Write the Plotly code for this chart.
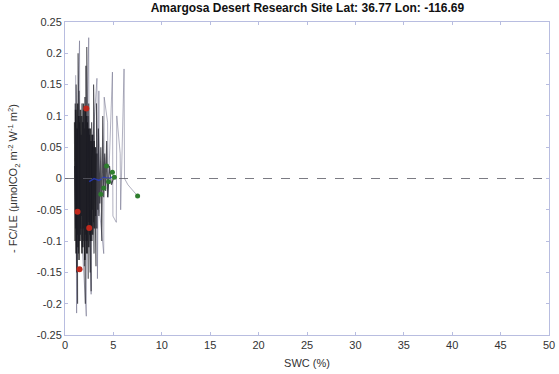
import plotly.graph_objects as go

# Dense black trace (main data cloud)
black_x = [1.0,1.1,1.05,1.2,1.15,1.3,1.25,1.4,1.35,1.5,1.45,1.6,1.55,1.7,1.65,1.8,1.75,1.9,1.85,2.0,
           1.95,2.1,2.05,2.2,2.15,2.3,2.25,2.4,2.35,2.5,2.45,2.6,2.55,2.7,2.65,2.8,2.75,2.9,2.85,3.0,
           2.95,3.1,3.05,3.2,3.15,3.3,3.25,3.4,3.35,3.5,3.45,3.6,3.7,3.8,3.9,4.0,4.1,4.2,4.3,4.4,
           4.6,4.8,5.0]
black_y = [0.02,-0.08,0.12,-0.15,0.15,-0.2,0.08,-0.12,0.2,-0.1,0.14,-0.09,0.1,-0.06,0.07,-0.11,0.12,-0.08,0.09,-0.14,
           0.11,-0.2,0.13,-0.1,0.18,-0.12,0.21,-0.16,0.1,-0.07,0.12,-0.15,0.08,-0.18,0.06,-0.1,0.09,-0.05,0.07,-0.12,
           0.15,-0.09,0.06,-0.14,0.05,-0.08,0.12,-0.05,0.04,-0.06,0.08,-0.04,0.05,-0.1,0.1,-0.03,0.04,-0.02,0.06,-0.03,
           0.02,-0.01,0.0]

dense_x = [1.00,1.05,1.10,1.15,1.20,1.25,1.30,1.35,1.40,1.45,1.50,1.55,1.60,1.65,1.70,1.75,1.80,1.85,1.90,1.95,
           2.00,2.05,2.10,2.15,2.20,2.25,2.30,2.35,2.40,2.45,2.50,2.55,2.60,2.65,2.70,2.75,2.80,2.85,2.90,2.95,
           3.00,3.05,3.10,3.15,3.20]
dense_y = [0.09,-0.1,0.11,-0.12,0.08,-0.09,0.12,-0.11,0.1,-0.13,0.09,-0.1,0.11,-0.08,0.1,-0.12,0.09,-0.11,0.12,-0.1,
           0.08,-0.13,0.11,-0.09,0.1,-0.12,0.09,-0.1,0.08,-0.11,0.07,-0.09,0.08,-0.1,0.06,-0.08,0.07,-0.09,0.05,-0.07,
           0.06,-0.08,0.05,-0.06,0.04]

# Thin grey spikes
gray_x = [1.1,1.15,1.2,1.25,1.5,1.55,2.2,2.25,2.45,2.5,2.7,2.75,3.3,3.35,3.5,3.55,4.0,4.05,4.4,4.45,
          4.9,4.95,5.3,5.35,5.7,5.75,6.1,6.15,6.5,7.5]
gray_y = [0.165,-0.05,-0.215,0.05,0.22,-0.05,-0.22,0.05,0.225,-0.04,-0.185,0.03,0.16,-0.16,0.14,-0.05,-0.12,0.13,0.09,-0.03,
          0.17,-0.06,-0.07,0.1,0.04,-0.05,0.175,0.0,-0.01,-0.028]

blue_x = [2.5,3.0,3.5,4.0,4.5,5.0]
blue_y = [-0.005,0.0,-0.003,0.002,0.0,0.003]

red_x = [2.2,1.3,2.5,1.5]
red_y = [0.112,-0.053,-0.079,-0.145]

green_x = [4.3,4.9,5.1,4.0,3.7,7.5,4.5]
green_y = [0.02,0.01,0.002,-0.015,-0.025,-0.028,-0.005]

x_ticks = [0,5,10,15,20,25,30,35,40,45,50]
y_ticks = [-0.25,-0.2,-0.15,-0.1,-0.05,0,0.05,0.1,0.15,0.2,0.25]
y_ticklabels = ["-0.25","-0.2","-0.15","-0.1","-0.05","0","0.05","0.1","0.15","0.2","0.25"]

title = "Amargosa Desert Research Site Lat: 36.77 Lon: -116.69"

fig = go.Figure()
fig.add_trace(go.Scatter(x=gray_x, y=gray_y, mode="lines",
                         line=dict(color="rgba(100,100,130,0.5)", width=1)))
fig.add_trace(go.Scatter(x=dense_x, y=dense_y, mode="lines",
                         line=dict(color="rgba(0,0,0,0.75)", width=1.6)))
fig.add_trace(go.Scatter(x=black_x, y=black_y, mode="lines",
                         line=dict(color="rgba(20,20,30,0.75)", width=1.1)))
fig.add_trace(go.Scatter(x=blue_x, y=blue_y, mode="lines",
                         line=dict(color="rgba(40,60,200,0.8)", width=1.5)))
fig.add_trace(go.Scatter(x=red_x, y=red_y, mode="markers",
                         marker=dict(color="#c0281c", size=6)))
fig.add_trace(go.Scatter(x=green_x, y=green_y, mode="markers",
                         marker=dict(color="#2e7d2e", size=5)))

fig.add_hline(y=0, line=dict(color="rgba(90,90,100,0.8)", width=1, dash="dash"))

axis_common = dict(showgrid=False, zeroline=False, showline=True, mirror="ticks",
                   linecolor="#b8bde0", linewidth=1, ticks="inside", ticklen=3,
                   tickcolor="#b8bde0", automargin=False,
                   tickfont=dict(family="Liberation Sans, Arial", size=11, color="#333"))

fig.update_layout(
    width=559, height=374,
    margin=dict(l=65, r=10, t=22, b=39),
    paper_bgcolor="white", plot_bgcolor="white",
    showlegend=False,
    title=dict(text="<b>" + title + "</b>", x=0.55, xanchor="center", y=0.978, yanchor="middle",
               font=dict(family="Liberation Sans, Arial", size=12, color="#111")),
    xaxis=dict(range=[0, 50], tickvals=x_ticks,
               title=dict(text="SWC (%)", standoff=9,
                          font=dict(family="Liberation Sans, Arial", size=11, color="#333")),
               **axis_common),
    yaxis=dict(range=[-0.25, 0.25], tickvals=y_ticks, ticktext=y_ticklabels,
               title=dict(text="- FC/LE (μmolCO<sub>2</sub> m<sup>-2</sup> W<sup>-1</sup> m<sup>2</sup>)",
                          standoff=16,
                          font=dict(family="Liberation Sans, Arial", size=11, color="#333")),
               **axis_common),
)

fig.write_html("out.html")
